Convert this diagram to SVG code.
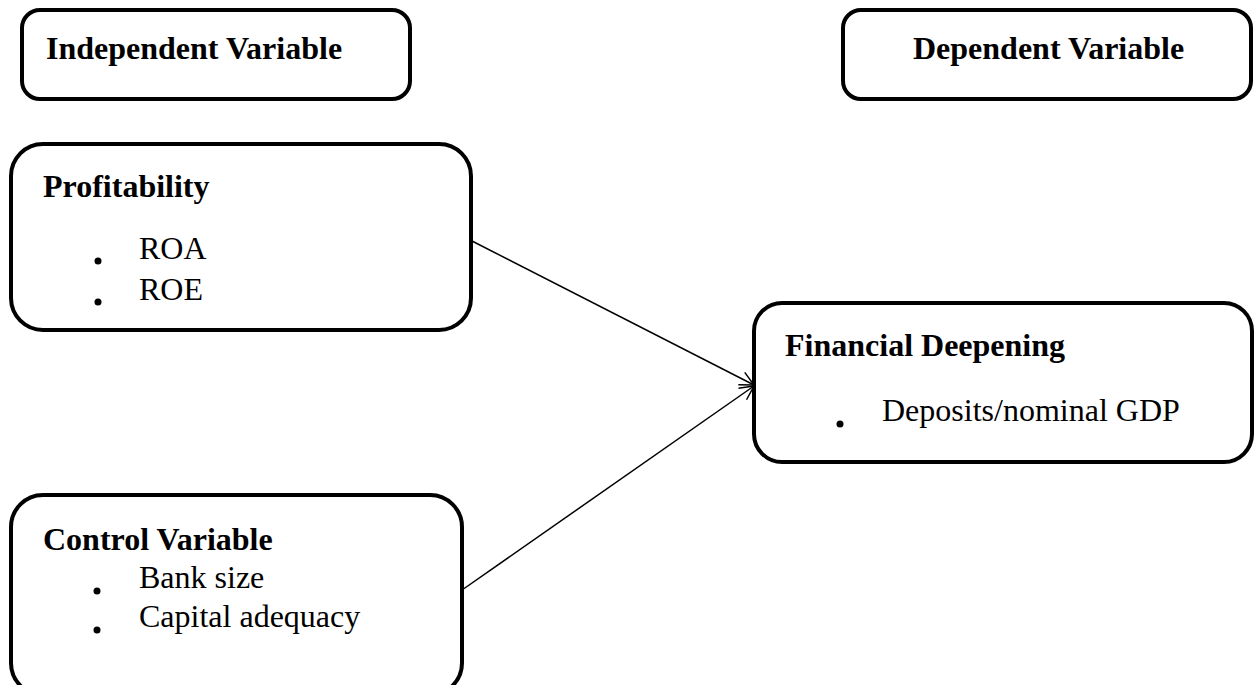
<svg xmlns="http://www.w3.org/2000/svg" width="1255" height="685" viewBox="0 0 1255 685">
<style>
.box{fill:#fff;stroke:#000;stroke-width:4}
.b{font-family:"Liberation Serif","Times New Roman",serif;font-weight:bold;font-size:32px;fill:#000}
.r{font-family:"Liberation Serif","Times New Roman",serif;font-size:32px;fill:#000}
.c{stroke:#000;stroke-width:1.5;fill:none}
</style>
<defs>
<marker id="arr" markerWidth="20" markerHeight="20" refX="16" refY="10" orient="auto" markerUnits="userSpaceOnUse">
<path d="M2,3 L16,10 L2,17" fill="none" stroke="#000" stroke-width="1.5"/>
</marker>
</defs>
<rect width="1255" height="685" fill="#fff"/>
<g id="connectors">
<line class="c" x1="472" y1="241" x2="754" y2="385" marker-end="url(#arr)"/>
<line class="c" x1="462" y1="590" x2="754" y2="386" marker-end="url(#arr)"/>
</g>
<g id="independent">
<rect class="box" x="22" y="10" width="388" height="89" rx="18"/>
<text class="b" x="46" y="59">Independent Variable</text>
</g>
<g id="dependent">
<rect class="box" x="843" y="10" width="408" height="89" rx="18"/>
<text class="b" x="913" y="59">Dependent Variable</text>
</g>
<g id="profitability">
<rect class="box" x="11" y="144" width="460" height="186" rx="32"/>
<text class="b" x="43" y="197">Profitability</text>
<circle cx="98" cy="261" r="3.5"/>
<text class="r" x="139" y="259">ROA</text>
<circle cx="98" cy="302" r="3.5"/>
<text class="r" x="139" y="300">ROE</text>
</g>
<g id="control">
<rect class="box" x="11" y="495" width="451" height="200" rx="32"/>
<text class="b" x="43" y="550">Control Variable</text>
<circle cx="97" cy="591" r="3.5"/>
<text class="r" x="139" y="588">Bank size</text>
<circle cx="97" cy="630" r="3.5"/>
<text class="r" x="139" y="627">Capital adequacy</text>
</g>
<g id="financial">
<rect class="box" x="754" y="303" width="498" height="159" rx="28"/>
<text class="b" x="785" y="356">Financial Deepening</text>
<circle cx="840" cy="424" r="3.5"/>
<text class="r" x="882" y="421">Deposits/nominal GDP</text>
</g>
</svg>
